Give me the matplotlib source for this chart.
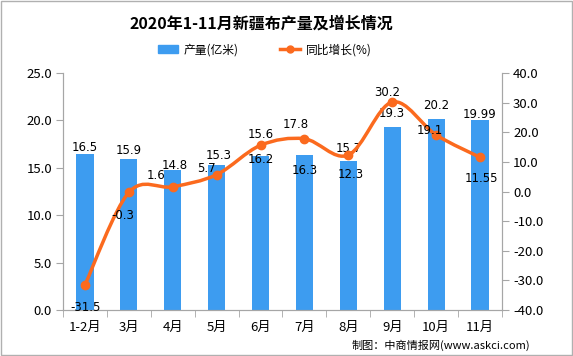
import numpy as np
import matplotlib.pyplot as plt
from matplotlib.path import Path
from matplotlib.patches import PathPatch, Rectangle
from matplotlib.lines import Line2D
from matplotlib.patches import Patch

plt.rcParams['font.family'] = ['Noto Sans CJK SC', 'DejaVu Sans']

# данные
months = ['1-2月', '3月', '4月', '5月', '6月', '7月', '8月', '9月', '10月', '11月']
output = [16.5, 15.9, 14.8, 15.3, 16.2, 16.3, 15.7, 19.3, 20.2, 19.99]
growth = [-31.5, -0.3, 1.6, 5.7, 15.6, 17.8, 12.3, 30.2, 19.1, 11.55]
output_labels = ['16.5', '15.9', '14.8', '15.3', '16.2', '16.3', '15.7', '19.3', '20.2', '19.99']
growth_labels = ['-31.5', '-0.3', '1.6', '5.7', '15.6', '17.8', '12.3', '30.2', '19.1', '11.55']

# смещения подписей (пиксели, центр подписи относительно точки)
bar_off = [(0, 6), (0, 9), (2, 4), (2, 9), (0, -3), (0, -15), (0, 13), (0, 14), (0, 13), (0, 6)]
line_off = [(1, -23), (-6, -23), (-17, 11), (-10, 6), (0, 11),
            (-9, 14), (2, -19), (-5, 10), (-6, 4), (1, -21)]

blue = '#3d9cf0'
orange = '#fb6a1e'
grey = '#a6a6a6'

fig = plt.figure(figsize=(5.73, 3.56), dpi=100)
ax = fig.add_axes([0.110, 0.129, 0.766, 0.666])
ax2 = ax.twinx()

x = np.arange(len(months))
ax.bar(x, output, width=0.39, color=blue, zorder=2)
ax.set_xlim(-0.5, len(months) - 0.5)
ax.set_ylim(0, 25)
ax.set_yticks(np.arange(0, 25.1, 5))
ax.set_yticklabels([f'{v:.1f}' for v in np.arange(0, 25.1, 5)])
ax.set_xticks(x)
ax.set_xticklabels(months)
ax.set_xticks(np.arange(-0.5, len(months), 1), minor=True)
ax.tick_params(axis='x', which='major', length=0, pad=8, labelsize=9.5)
ax.tick_params(axis='x', which='minor', length=5, color=grey, direction='out')
ax.tick_params(axis='y', length=5, color=grey, labelsize=9.5, pad=3)

ax2.set_ylim(-40, 40)
ax2.set_yticks(np.arange(-40, 40.1, 10))
ax2.set_yticklabels([f'{v:.1f}' for v in np.arange(-40, 40.1, 10)])
ax2.tick_params(axis='y', length=5, color=grey, labelsize=9.5, pad=3)

for a in (ax, ax2):
    a.spines['top'].set_visible(False)
    for s in ('left', 'right', 'bottom'):
        a.spines[s].set_color(grey)

# сглаженная линия (кривые Безье через точки)
pts = np.column_stack([x, growth]).astype(float)
verts = [tuple(pts[0])]
codes = [Path.MOVETO]
n = len(pts)
for i in range(n - 1):
    p0 = pts[max(i - 1, 0)]
    p1 = pts[i]
    p2 = pts[i + 1]
    p3 = pts[min(i + 2, n - 1)]
    c1 = p1 + (p2 - p0) / 6
    c2 = p2 - (p3 - p1) / 6
    verts += [tuple(c1), tuple(c2), tuple(p2)]
    codes += [Path.CURVE4] * 3
ax2.add_patch(PathPatch(Path(verts, codes), fill=False, edgecolor=orange, lw=2.5, zorder=3))
ax2.plot(x, growth, 'o', color=orange, ms=6, zorder=4)

for i in range(n):
    ax.annotate(output_labels[i], (x[i], output[i]), xytext=bar_off[i],
                textcoords='offset pixels', ha='center', va='center',
                fontsize=8.5, family='DejaVu Sans', zorder=5)
    ax2.annotate(growth_labels[i], (x[i], growth[i]), xytext=line_off[i],
                 textcoords='offset pixels', ha='center', va='center',
                 fontsize=8.5, family='DejaVu Sans', zorder=5)

fig.text(0.457, 0.935, '2020年1-11月新疆布产量及增长情况', ha='center', va='center',
         fontsize=11.5, fontweight='bold')

handles = [Patch(color=blue),
           Line2D([0], [0], color=orange, lw=2.5, marker='o', ms=5)]
fig.legend(handles, ['产量(亿米)', '同比增长(%)'], loc='center', bbox_to_anchor=(0.462, 0.86),
           ncol=2, frameon=False, fontsize=8.5, handlelength=1.7, columnspacing=3.5,
           handletextpad=0.5)

fig.text(0.925, 0.03, '制图：中商情报网(www.askci.com)', ha='right', va='center', fontsize=8)

fig.add_artist(Rectangle((0.001, 0.002), 0.997, 0.995, transform=fig.transFigure,
                         fill=False, edgecolor='#b0b0b0', lw=1))

fig.savefig('out.png', dpi=100)
